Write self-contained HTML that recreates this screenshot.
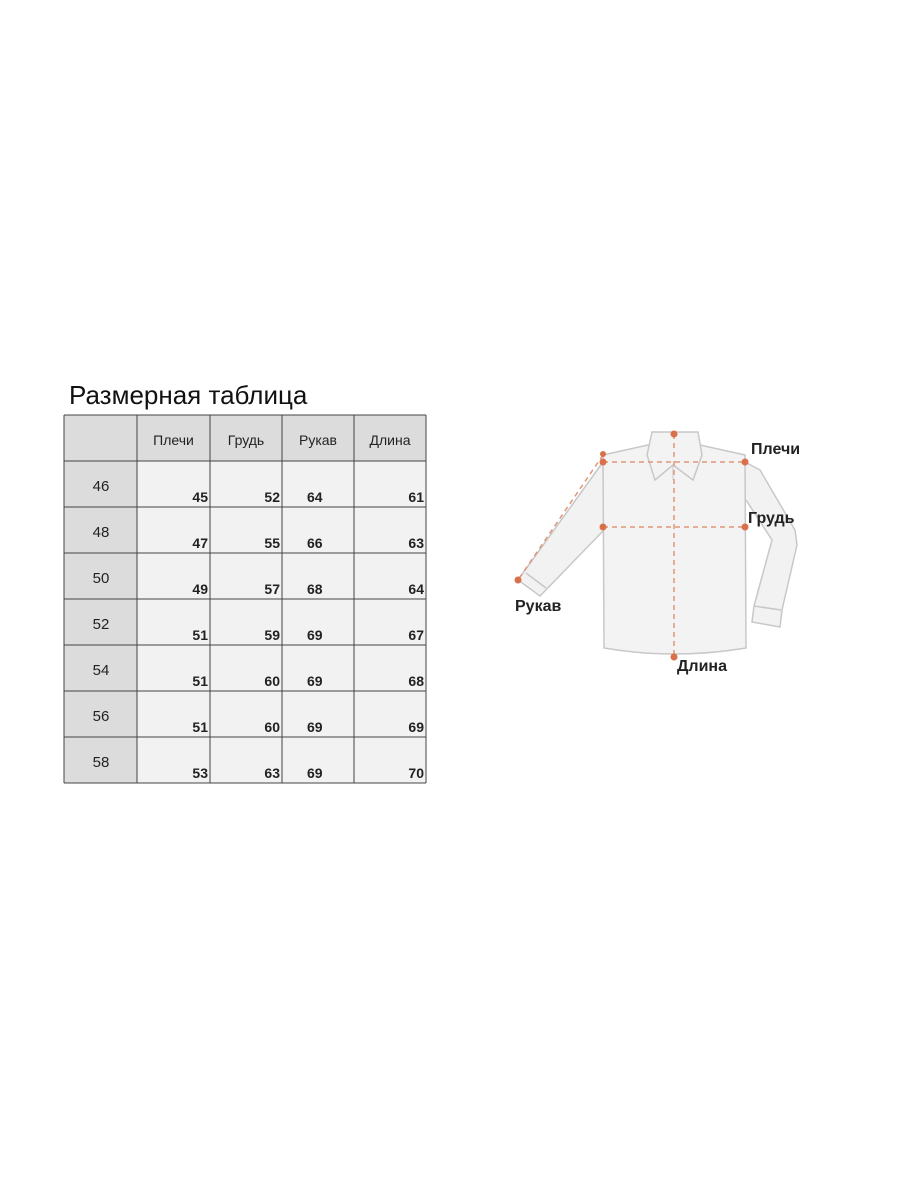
<!DOCTYPE html>
<html><head><meta charset="utf-8">
<style>
html,body{margin:0;padding:0;background:#fff;}
body{width:900px;height:1200px;position:relative;overflow:hidden;font-family:"Liberation Sans","DejaVu Sans",sans-serif;}
#title{position:absolute;left:69px;top:380px;font-size:26px;color:#111;white-space:nowrap;}
#chart{position:absolute;left:0;top:0;}
</style></head>
<body>
<div id="title">Размерная таблица</div>
<svg id="chart" width="900" height="1200">
  <g id="table"></g>
  <g id="shirt">
    <!-- right sleeve -->
    <path d="M745,462 L760,470 L795,530 L797,545 L782,610 L780,627 L752,622 L754,606 L772,540 L746,500" fill="#f2f2f2" stroke="#c8c8c8" stroke-width="1.5"/>
    <line x1="754" y1="606" x2="781" y2="610" stroke="#c8c8c8" stroke-width="1.5"/>
    <!-- left sleeve -->
    <path d="M603,462 L518,580 L540,596 L604,530 Z" fill="#f2f2f2" stroke="#c8c8c8" stroke-width="1.5"/>
    <line x1="526" y1="573" x2="546" y2="588" stroke="#c8c8c8" stroke-width="1.5"/>
    <!-- body -->
    <path d="M603,455 L648,445 L700,445 L745,455 L746,648 Q674,660 604,648 Z" fill="#f3f3f3" stroke="#c8c8c8" stroke-width="1.5"/>
    <!-- collar -->
    <path d="M652,432 L698,432 L702,455 L693,480 L673,465 L655,480 L647,455 Z" fill="#f3f3f3" stroke="#c8c8c8" stroke-width="1.5"/>
    <line x1="673" y1="465" x2="673" y2="480" stroke="#c8c8c8" stroke-width="1"/>
    <!-- measurement lines -->
    <g stroke="#e0977a" stroke-width="1.5" stroke-dasharray="5,4" fill="none">
      <line x1="603" y1="462" x2="745" y2="462"/>
      <line x1="603" y1="527" x2="745" y2="527"/>
      <line x1="674" y1="434" x2="674" y2="657"/>
      <line x1="603" y1="455" x2="518" y2="580"/>
    </g>
    <g fill="#d9704a">
      <circle cx="674" cy="434" r="3.5"/>
      <circle cx="603" cy="454" r="3"/>
      <circle cx="603" cy="462" r="3.5"/>
      <circle cx="745" cy="462" r="3.5"/>
      <circle cx="603" cy="527" r="3.5"/>
      <circle cx="745" cy="527" r="3.5"/>
      <circle cx="674" cy="657" r="3.5"/>
      <circle cx="518" cy="580" r="3.5"/>
    </g>
    <g font-family="'Liberation Sans','DejaVu Sans',sans-serif" font-weight="bold" font-size="16" fill="#222">
      <text x="751" y="454">Плечи</text>
      <text x="748" y="523">Грудь</text>
      <text x="515" y="611">Рукав</text>
      <text x="677" y="671">Длина</text>
    </g>
  </g>
</svg>
<script>
const headers = ["Плечи","Грудь","Рукав","Длина"];
const sizes = ["46","48","50","52","54","56","58"];
const shoulders = [45,47,49,51,51,51,53];
const chest = [52,55,57,59,60,60,63];
const sleeve = [64,66,68,69,69,69,69];
const lengthVals = [61,63,64,67,68,69,70];

const NS = "http://www.w3.org/2000/svg";
const tbl = document.getElementById("table");
const colX = [64,137,210,282,354,426];
const headTop = 415, headBot = 461, rowH = 46;
function rowTop(i){ return headBot + i*rowH; }
function mk(tag, attrs){ const e=document.createElementNS(NS,tag); for(const k in attrs) e.setAttribute(k,attrs[k]); tbl.appendChild(e); return e; }

// header cells
for(let c=0;c<5;c++){
  const r = mk("rect",{x:colX[c],y:headTop,width:colX[c+1]-colX[c],height:headBot-headTop,fill:"#dcdcdc"});
  
  
}
headers.forEach((h,i)=>{
  const t = mk("text",{x:(colX[i+1]+colX[i+2])/2,y:445,"text-anchor":"middle","font-size":"14",fill:"#222"});
  t.textContent = h;
  
  
});
const cols = [shoulders, chest, sleeve, lengthVals];
sizes.forEach((s,i)=>{
  const y = rowTop(i);
  const r0 = mk("rect",{x:colX[0],y:y,width:colX[1]-colX[0],height:rowH,fill:"#dcdcdc"});
  
  
  for(let c=1;c<5;c++){
    const rc = mk("rect",{x:colX[c],y:y,width:colX[c+1]-colX[c],height:rowH,fill:"#f2f2f2"});
    
    
  }
  const st = mk("text",{x:101,y:y+30,"text-anchor":"middle","font-size":"15",fill:"#222"});
  st.textContent = s;
  
  
  cols.forEach((arr,c)=>{
    const ci = c+1;
    const attrs = c===2 ? {x:colX[ci]+25,"text-anchor":"start"} : {x:colX[ci+1]-2,"text-anchor":"end"};
    attrs.y = y+41; attrs["font-size"]="14"; attrs["font-weight"]="bold"; attrs.fill="#222";
    const t = mk("text",attrs);
    t.textContent = arr[i];
    
    
  });
});
// grid lines
const bottom = rowTop(sizes.length);
colX.forEach(x=>{ const l=mk("line",{x1:x,y1:headTop,x2:x,y2:bottom,stroke:"#444","stroke-width":"1"});   });
for(let i=0;i<=sizes.length;i++){
  const y = i===0?headTop:rowTop(i-1);
  const l=mk("line",{x1:64,y1:y,x2:426,y2:y,stroke:"#444","stroke-width":"1"});
  
  
}
const lb=mk("line",{x1:64,y1:bottom,x2:426,y2:bottom,stroke:"#444","stroke-width":"1"});


</script>
</body></html>
